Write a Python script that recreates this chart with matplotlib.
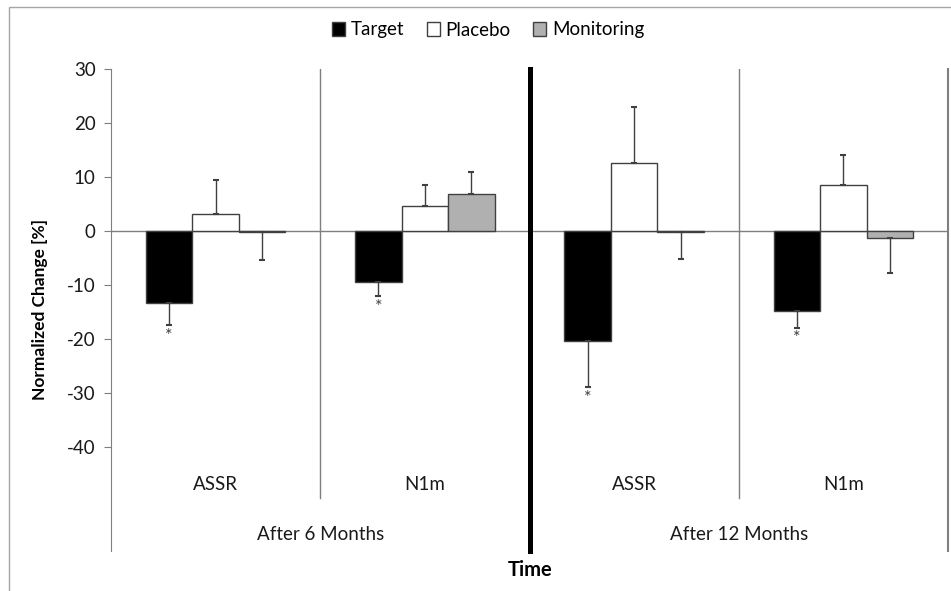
import matplotlib
matplotlib.use('Agg')
import matplotlib.pyplot as plt
from matplotlib.patches import Rectangle, Patch
import numpy as np

plt.rcParams['font.family'] = ['Lato', 'DejaVu Sans']
plt.rcParams['axes.unicode_minus'] = False

# 数据
sub_labels = ['ASSR', 'N1m', 'ASSR', 'N1m']
time_labels = ['After 6 Months', 'After 12 Months']
series_names = ['Target', 'Placebo', 'Monitoring']
target = [-13.4, -9.4, -20.4, -14.9]
target_err = [4.1, 2.7, 8.5, 3.0]
placebo = [3.2, 4.6, 12.5, 8.5]
placebo_err = [6.2, 4.0, 10.5, 5.6]
monitoring = [-0.2, 6.8, -0.25, -1.3]
monitoring_err = [5.2, 4.1, 4.95, 6.5]
significant = [True, True, True, True]  # Target 组的星号

W, H = 951, 591
fig = plt.figure(figsize=(W / 100, H / 100), dpi=100)

# 图表外框
fig.patches.append(Rectangle((9 / W, -0.5), 1.5, 1.5 - 7 / H,
                             transform=fig.transFigure, fill=False,
                             edgecolor='#a6a6a6', lw=1.0))

ax = fig.add_axes([111 / W, 1 - 551 / H, (948 - 111) / W, (551 - 69) / H])
ymin = -59.3
ax.set_ylim(ymin, 30)
ax.set_xlim(-0.5, 3.5)

x = np.arange(len(sub_labels))
bw = 0.222
edge = '#404040'
groups = [(target, target_err, 'black'), (placebo, placebo_err, 'white'),
          (monitoring, monitoring_err, '#b0b0b0')]
for i, (vals, errs, col) in enumerate(groups):
    xs = x + (i - 1) * bw
    ax.bar(xs, vals, width=bw, color=col, edgecolor=edge, linewidth=1.0, zorder=3)
    vals = np.array(vals)
    errs = np.array(errs)
    lower = np.where(vals < 0, errs, 0)
    upper = np.where(vals >= 0, errs, 0)
    ax.errorbar(xs, vals, yerr=[lower, upper], fmt='none', ecolor='#404040',
                elinewidth=1.0, capsize=2.5, capthick=1.5, zorder=4)

# 星号
for xi, v, e, s in zip(x - bw, target, target_err, significant):
    if s:
        ax.annotate('*', (xi, v - e), xytext=(0, -2), textcoords='offset points',
                    ha='center', va='top', fontsize=13, color='#404040')

ax.axhline(0, color='#7f7f7f', lw=1.0, zorder=2)

# 分隔线
sep_top = -49.4
ax.plot([0.5, 0.5], [sep_top, 30], color='#7f7f7f', lw=1.0)
ax.plot([2.5, 2.5], [sep_top, 30], color='#7f7f7f', lw=1.0)
ax.plot([3.5, 3.5], [ymin, 30], color='#7f7f7f', lw=1.5, clip_on=False)
ax.plot([1.5, 1.5], [ymin, 30], color='black', lw=3.6, clip_on=False, zorder=5)

for xi, lab in zip(x, sub_labels):
    ax.text(xi, -47.0, lab, ha='center', va='center', fontsize=13.5, color='#1a1a1a')
for k, lab in enumerate(time_labels):
    ax.text(2 * k + 0.5, -56.3, lab, ha='center', va='center', fontsize=13.5,
            color='#1a1a1a')

for s in ['top', 'right', 'bottom']:
    ax.spines[s].set_visible(False)
ax.spines['left'].set_color('#7f7f7f')
ax.set_xticks([])
ax.set_yticks(np.arange(-40, 31, 10))
ax.tick_params(axis='y', direction='out', length=5, color='#7f7f7f',
               labelsize=13.5, pad=6, labelcolor='#1a1a1a')
ax.set_ylabel('Normalized Change [%]', fontsize=12.5, fontweight='bold', labelpad=14)

fig.text(530 / W, 1 - 570 / H, 'Time', ha='center', va='center',
         fontsize=14.5, fontweight='bold')

handles = [Patch(facecolor=c, edgecolor=edge, lw=1.0) for _, _, c in groups]
fig.legend(handles, series_names, loc='center', ncol=3,
           bbox_to_anchor=(488 / W, 1 - 30 / H), frameon=False, fontsize=13.5,
           handlelength=0.7, handleheight=0.7, handletextpad=0.3,
           columnspacing=1.2)

fig.savefig('out.png', dpi=100)
